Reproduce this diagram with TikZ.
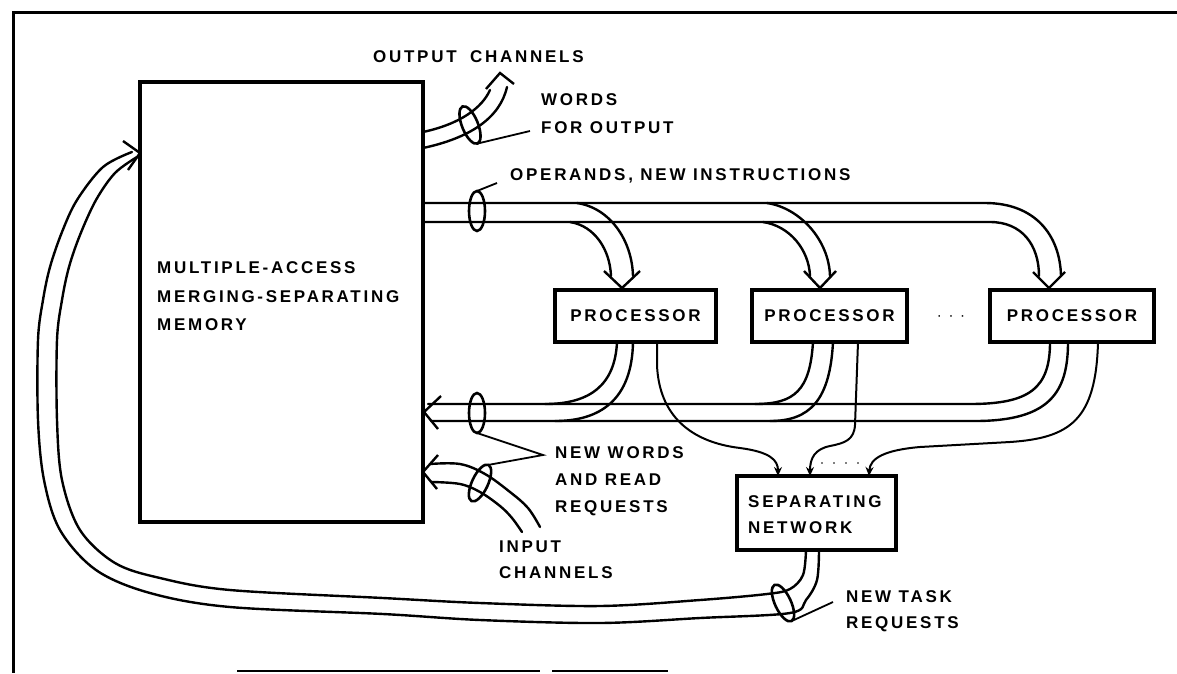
\documentclass[tikz,border=0pt]{standalone}
\usepackage{fontspec}
\newfontfamily\lab{Liberation Sans}[LetterSpace=16]
\usetikzlibrary{shapes.geometric,arrows.meta,calc}

\tikzset{
  lettering/.style={font=\lab\bfseries\fontsize{17}{20}\selectfont},
  lbl/.style={lettering, inner sep=0pt, anchor=base west},
  frame/.style={line width=3pt},
  box/.style={draw, line width=3.2pt, inner sep=0pt, outer sep=0pt, lettering},
  chan/.style={line width=2.4pt, line cap=round, line join=round},
  tipline/.style={line width=2.4pt, line join=miter},
  single/.style={line width=2pt, -{Stealth[length=9pt,width=8pt]}},
  ring/.style={draw, ellipse, line width=2.6pt, inner sep=0pt, outer sep=0pt,
               minimum width=16pt, minimum height=40pt},
  lead/.style={line width=1.8pt},
}

\begin{document}
\begin{tikzpicture}[x=1pt,y=-1pt]
\fill[white] (0,0) rectangle (1177,673);
\useasboundingbox (0,0) rectangle (1177,673);

% outer frame
\draw[frame] (1177,12) -- (13,12) -- (13,673);
\draw[line width=2.2pt] (237,671) -- (540,671);
\draw[line width=2.2pt] (552,671) -- (668,671);

% blocks
\node[box, minimum width=283pt, minimum height=440pt] (mem) at (281.5,302) {};
\node[lbl] (m1) at (157,273) {MULTIPLE-ACCESS};
\node[lbl] (m2) at (157,302) {MERGING-SEPARATING};
\node[lbl] (m3) at (157,330) {MEMORY};

\node[box, minimum width=161pt, minimum height=52pt] (p1) at (635.5,316) {PROCESSOR};
\node[box, minimum width=155pt, minimum height=52pt] (p2) at (829.5,316) {PROCESSOR};
\node[box, minimum width=164pt, minimum height=52pt] (p3) at (1072,316) {PROCESSOR};
\node[font=\fontsize{15}{18}\selectfont\lab, inner sep=0pt] (pdots) at (951,318) {· · ·};

\node[box, minimum width=159pt, minimum height=74pt] (net) at (816.5,513) {};
\node[lbl] (n1) at (748,507) {SEPARATING};
\node[lbl] (n2) at (748,533) {NETWORK};

% labels
\node[lbl] (oc) at (373,62) {OUTPUT\hspace{6pt} CHANNELS};
\node[lbl] (wo) at (541,105) {WORDS};
\node[lbl] (fo) at (541,133) {FOR OUTPUT};
\node[lbl] (op) at (510,180) {OPERANDS, NEW INSTRUCTIONS};
\node[lbl] (nw) at (555,458) {NEW WORDS};
\node[lbl] (ar) at (555,485) {AND READ};
\node[lbl] (rq) at (555,512) {REQUESTS};
\node[lbl] (ic) at (499,552) {INPUT};
\node[lbl] (ch) at (499,578) {CHANNELS};
\node[lbl] (nt) at (846,602) {NEW TASK};
\node[lbl] (tr) at (846,628) {REQUESTS};

% output channel
\draw[chan] (mem.east |- 0,132) .. controls (460,124) and (482,108) .. (490,90);
\draw[chan] (mem.east |- 0,148) .. controls (470,138) and (500,118) .. (507,87);
\draw[tipline] (486,89) -- (500,73) -- (514,84);
\node[ring, rotate=22] (r1) at (470,125) {};
\coordinate (w1) at (530,131);
\draw[lead] (r1.south) -- (w1);

% operands / new instructions bus
\draw[chan] (mem.east |- 0,203) -- (985,203) .. controls (1035,203) and (1060,235) .. (1061,276);
\draw[chan] (mem.east |- 0,222) -- (990,222) .. controls (1022,222) and (1039,245) .. (1039,276);
\draw[tipline] (1033,272) -- (1049,288) -- (1065,272);
\draw[chan] (577,203) .. controls (610,208) and (632,240) .. (633,276);
\draw[chan] (570,222) .. controls (595,226) and (610,250) .. (611,276);
\draw[tipline] (604,271) -- (622,288) -- (640,271);
\draw[chan] (767,203) .. controls (800,208) and (829,240) .. (830,276);
\draw[chan] (763,222) .. controls (790,226) and (809,250) .. (810,276);
\draw[tipline] (804,271) -- (820,288) -- (836,271);
\node[ring] (r2) at (477,211) {};
\coordinate (w2) at (497,183);
\draw[lead] (r2.north) -- (w2);

% return bus: new words and read requests
\draw[chan] (428,404) -- (970,404) .. controls (1030,404) and (1050,388) .. (p3.south -| 1050,0);
\draw[chan] (431,421) -- (975,421) .. controls (1050,421) and (1068,392) .. (p3.south -| 1068,0);
\draw[tipline] (441,396) -- (424,412) -- (438,429);
\draw[chan] (p1.south -| 617,0) .. controls (615,385) and (590,404) .. (545,404);
\draw[chan] (p1.south -| 633,0) .. controls (632,400) and (600,421) .. (555,421);
\draw[chan] (p2.south -| 813,0) .. controls (810,390) and (795,404) .. (755,404);
\draw[chan] (p2.south -| 833,0) .. controls (830,400) and (810,421) .. (770,421);
\node[ring] (r3) at (477,413) {};

% task lines into the separating network
\draw[single] (p1.south -| 657,0) -- (657,365) .. controls (659,415) and (690,442) .. (740,448)
  .. controls (770,452) and (778,460) .. (net.north -| 778,0);
\draw[single] (p2.south -| 858,0) -- (855,425) .. controls (854,440) and (845,443) .. (830,446)
  .. controls (815,449) and (810,458) .. (net.north -| 810,0);
\draw[single] (p3.south -| 1098,0) .. controls (1096,420) and (1070,438) .. (1010,442) -- (920,447)
  .. controls (885,450) and (870,458) .. (net.north -| 869,0);
\draw[line width=1.6pt, line cap=round, dash pattern=on 0pt off 12pt] (822,463) -- (860,463);

% input channels
\draw[chan] plot[smooth, tension=0.6] coordinates {(430,464) (460,464) (485,474) (510,492) (528,508) (540,527)};
\draw[chan] plot[smooth, tension=0.6] coordinates {(432,482) (460,484) (480,492) (500,506) (512,518) (522,532)};
\draw[tipline] (438,455) -- (423,472) -- (437,489);
\node[ring, rotate=-25] (r5) at (480,483) {};
\coordinate (w3) at (543,455);
\draw[lead] (r3.south) -- (w3) -- (r5.north);

% new task requests loop back to the memory
\draw[chan] plot[smooth, tension=0.55] coordinates {(806,550) (803,575) (790,589) (767,594) (700,600) (600,606)
  (480,603) (383,598) (230,590) (160,578) (115,563) (80,530) (62,480) (57,420) (57,340) (62,300) (69,267)
  (80,235) (96,200) (115,173) (137,157)};
\draw[chan] plot[smooth, tension=0.55] coordinates {(819,550) (817,580) (806,600) (790,613) (700,618) (600,623)
  (480,620) (383,614) (230,607) (150,593) (96,570) (60,530) (44,480) (38,420) (38,340) (43,300) (50,267)
  (62,232) (77,200) (103,167) (132,152)};
\draw[tipline] (123,141) -- (140,153) -- (128,170);
\node[ring, rotate=25] (r4) at (783,603) {};
\coordinate (w4) at (833,602);
\draw[lead] (r4.south) -- (w4);
\end{tikzpicture}
\end{document}
